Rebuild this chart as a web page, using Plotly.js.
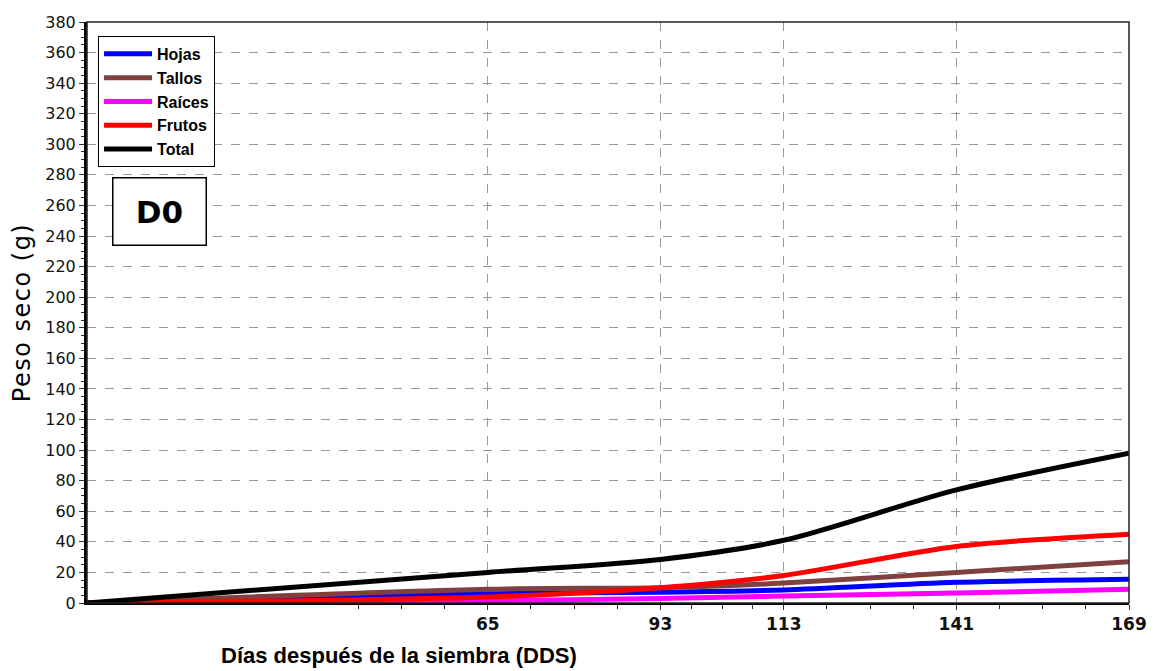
<!DOCTYPE html>
<html>
<head>
<meta charset="utf-8">
<script src="https://cdn.plot.ly/plotly-3.0.1.min.js"></script>
<style>
html,body{margin:0;padding:0;background:#fff;}
#chart{width:1154px;height:671px;}
.ytitle{letter-spacing:1.5px;}
</style>
</head>
<body>
<div id="chart"></div>
<script>
const dias = [0, 65, 93, 113, 141, 169];
const hojas = [0, 6, 7, 8.5, 13.5, 15.5];
const tallos = [0, 9, 10, 13, 20, 27];
const raices = [0, 1.5, 3, 4.5, 6.5, 9];
const frutos = [0, 4, 10, 18, 37, 45];
const total = [0, 20, 28.5, 41, 74, 98];

const seriesNames = ['Hojas', 'Tallos', 'Raíces', 'Frutos', 'Total'];
const seriesValues = [hojas, tallos, raices, frutos, total];
const seriesColors = ['#0000ff', '#804040', '#ff00ff', '#ff0000', '#000000'];

const xTickVals = [65, 93, 113, 141, 169];
const xMinorVals = [44, 51, 58, 72, 79, 86, 98, 103, 108, 120, 127, 134, 148, 155, 162];

const traces = seriesNames.map((n, i) => ({
  x: dias, y: seriesValues[i], name: n, type: 'scatter', mode: 'lines',
  line: {color: seriesColors[i], width: 5, shape: 'spline', smoothing: 0.8}
}));

const layout = {
  width: 1154, height: 671,
  margin: {l: 87, r: 25, t: 22, b: 68},
  paper_bgcolor: '#fff', plot_bgcolor: '#fff',
  showlegend: true,
  legend: {
    x: 0.0106, y: 0.976, xanchor: 'left', yanchor: 'top',
    bgcolor: '#fff', bordercolor: '#000', borderwidth: 1,
    itemwidth: 48,
    font: {family: 'Liberation Sans, Arial, sans-serif', size: 16, weight: 'bold', color: '#000'},
    tracegroupgap: 0
  },
  xaxis: {
    range: [0, 169], tickmode: 'array', tickvals: xTickVals, ticktext: xTickVals.map(String),
    showline: true, linecolor: '#000', linewidth: 2,
    showgrid: true, gridcolor: '#999', griddash: 'dash', gridwidth: 1,
    ticks: 'outside', ticklen: 5, tickcolor: '#333', zeroline: false,
    minor: {tickmode: 'array', tickvals: xMinorVals, ticks: 'outside', ticklen: 4, tickcolor: '#333', showgrid: false},
    tickfont: {family: 'DejaVu Sans, Verdana, sans-serif', size: 17, weight: 'bold', color: '#111'}
  },
  yaxis: {
    range: [0, 380], dtick: 20, tick0: 0,
    showline: true, linecolor: '#000', linewidth: 3,
    showgrid: true, gridcolor: '#999', griddash: 'dash', gridwidth: 1,
    ticks: 'outside', ticklen: 5, tickcolor: '#333', zeroline: false,
    minor: {dtick: 5, ticks: 'outside', ticklen: 3, tickcolor: '#333', showgrid: false},
    tickfont: {family: 'DejaVu Sans, Verdana, sans-serif', size: 16, color: '#111'},
    title: {text: 'Peso seco (g)', font: {family: 'DejaVu Sans, Verdana, sans-serif', size: 24, color: '#000'}, standoff: 8}
  },
  shapes: [{
    type: 'rect', xref: 'paper', yref: 'paper', x0: 0, x1: 1, y0: 0, y1: 1,
    line: {color: '#222', width: 1.5}, layer: 'above'
  }],
  annotations: [
    {
      text: 'D0', xref: 'paper', yref: 'paper', x: 0.0696, y: 0.674,
      xanchor: 'center', yanchor: 'middle', showarrow: false,
      width: 90, height: 64, bgcolor: '#fff', bordercolor: '#000', borderwidth: 1.5,
      font: {family: 'DejaVu Sans, Verdana, sans-serif', size: 31, weight: 'bold', color: '#000'}
    },
    {
      text: 'Días después de la siembra (DDS)', xref: 'paper', yref: 'paper',
      x: 0.127, y: -0.0905, xanchor: 'left', yanchor: 'middle', showarrow: false,
      font: {family: 'Liberation Sans, Arial, sans-serif', size: 22, weight: 'bold', color: '#000'}
    }
  ]
};

Plotly.newPlot('chart', traces, layout, {displayModeBar: false, staticPlot: true});
</script>
</body>
</html>
